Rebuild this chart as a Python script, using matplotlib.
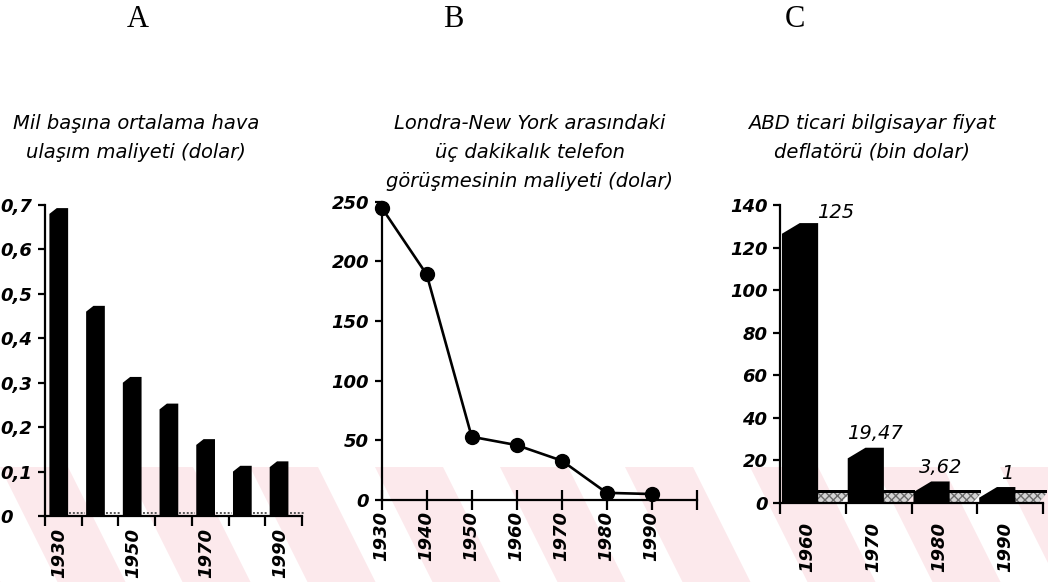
import matplotlib.pyplot as plt
from matplotlib.ticker import FuncFormatter

# ---------------------------------------------------------
# Data
# ---------------------------------------------------------
air_years = [1930, 1940, 1950, 1960, 1970, 1980, 1990]
air_cost = [0.68, 0.46, 0.30, 0.24, 0.16, 0.10, 0.11]

call_years = [1930, 1940, 1950, 1960, 1970, 1980, 1990]
call_cost = [245, 189, 53, 46, 33, 6, 5]

pc_years = [1960, 1970, 1980, 1990]
pc_price = [125, 19.47, 3.62, 1]

panel_letters = ["A", "B", "C"]
subtitle_a = ["Mil başına ortalama hava", "ulaşım maliyeti (dolar)"]
subtitle_b = ["Londra-New York arasındaki", "üç dakikalık telefon",
              "görüşmesinin maliyeti (dolar)"]
subtitle_c = ["ABD ticari bilgisayar fiyat", "deflatörü (bin dolar)"]

W, H = 1048, 582
TICK_FONT = dict(family="DejaVu Sans", style="oblique", weight="bold", size=13)


def fig_rect(left_px, right_px, top_px, bottom_px):
    return [left_px / W, (H - bottom_px) / H,
            (right_px - left_px) / W, (bottom_px - top_px) / H]


def bar3d(ax, x0, x1, dx, top, dv, **kw):
    # front edge, slanted top, back edge -> one filled outline
    xs = [x0, x0, x0 + dx, x1, x1]
    ys = [0, top, top + dv, top + dv, 0]
    ax.fill(xs, ys, **kw)


def comma(v, _pos=None):
    if v == 0:
        return "0"
    return f"{v:g}".replace(".", ",")


def style_axes(ax):
    ax.set_facecolor("none")
    for s in ("top", "right"):
        ax.spines[s].set_visible(False)
    for s in ("left", "bottom"):
        ax.spines[s].set_linewidth(1.6)
    for lab in ax.get_xticklabels(minor=True) + ax.get_xticklabels() + ax.get_yticklabels():
        lab.set(**TICK_FONT)


def draw_chart():
    plt.rcParams['font.family'] = ['DejaVu Sans']
    fig = plt.figure(figsize=(W / 100, H / 100), dpi=100)
    fig.patch.set_facecolor("white")

    # ---------------------------------------------------------
    # Background watermark (pale diagonal bands at the bottom)
    # ---------------------------------------------------------
    bg = fig.add_axes([0, 0, 1, 1])
    bg.set_xlim(0, W)
    bg.set_ylim(H, 0)
    bg.axis("off")
    bg.set_zorder(-5)
    band_top, band_bot = 467, H
    slope = 0.5
    for k in range(-2, 10):
        x = 0 + k * 125
        shift = (band_bot - band_top) * slope
        bg.fill([x, x + 68, x + 68 + shift, x + shift],
                [band_top, band_top, band_bot, band_bot],
                color="#fce9ec", lw=0)

    # ---------------------------------------------------------
    # Panel A: air transport cost per mile (3D-ish bars)
    # ---------------------------------------------------------
    axA = fig.add_axes(fig_rect(45, 302, 205, 516))
    for i, v in enumerate(air_cost):
        bar3d(axA, i + 0.12, i + 0.63, 0.2, v, 0.013, color="black", lw=0)
        axA.plot([i + 0.66, i + 1.08], [0.006, 0.006], ls=(0, (1, 1)),
                 color="#555555", lw=1.4, clip_on=False)
    axA.set_xlim(0, len(air_cost))
    axA.set_ylim(0, 0.7)
    axA.set_xticks(range(len(air_cost) + 1))
    axA.set_xticklabels([])
    axA.set_xticks([i + 0.4 for i in range(0, len(air_years), 2)],
                   [str(y) for y in air_years[::2]], minor=True, rotation=90)
    axA.set_yticks([i / 10 for i in range(8)])
    axA.yaxis.set_major_formatter(FuncFormatter(comma))
    axA.tick_params(axis="x", which="major", direction="out", length=7, width=1.6)
    axA.tick_params(axis="x", which="minor", length=0, pad=9)
    axA.tick_params(axis="y", direction="out", length=5, width=1.6, pad=27)
    style_axes(axA)
    for lab in axA.get_yticklabels():
        lab.set_ha("left")

    # ---------------------------------------------------------
    # Panel B: London - New York three minute call (line)
    # ---------------------------------------------------------
    axB = fig.add_axes(fig_rect(381.7, 696.7, 201.7, 500))
    axB.plot(call_years, call_cost, color="black", lw=1.9, marker="o",
             ms=10, clip_on=False, zorder=5)
    axB.set_xlim(1930, 2000)
    axB.set_ylim(0, 250)
    axB.set_xticks(range(1930, 2001, 10))
    axB.set_xticklabels([str(y) for y in call_years] + [""], rotation=90)
    axB.set_yticks(range(0, 251, 50))
    axB.tick_params(axis="x", direction="inout", length=14, width=1.6, pad=1)
    axB.tick_params(axis="y", direction="out", length=5, width=1.6, pad=4)
    style_axes(axB)

    # ---------------------------------------------------------
    # Panel C: US computer price deflator (3D-ish bars + floor)
    # ---------------------------------------------------------
    axC = fig.add_axes(fig_rect(780, 1043, 205, 503))
    floor, depth = 1.5, 5
    for i, v in enumerate(pc_price):
        # hatched floor strip behind / beside each bar
        axC.fill([i + 0.38, i + 0.58, i + 1.06, i + 0.94], [0.5, 4.7, 4.7, 0.5],
                 facecolor="#d4d4d4", edgecolor="#6a6a6a", hatch="xxxx",
                 lw=0, clip_on=False, zorder=1)
        axC.fill([i + 0.5, i + 1.06, i + 1.06, i + 0.5], [4.7, 4.7, 5.9, 5.9],
                 color="black", lw=0, clip_on=False, zorder=1)
        bar3d(axC, i + 0.03, i + 0.58, 0.27, v + floor, depth,
              color="black", lw=0, zorder=2)
        top = v + floor + depth
        if top + 10 > 140:
            axC.text(i + 0.57, top + 0.5, comma(v), ha="left", va="bottom",
                     fontsize=14, style="oblique")
        else:
            axC.text(i + 0.45, top + 2, comma(v), ha="center", va="bottom",
                     fontsize=14, style="oblique")
    axC.set_xlim(0, len(pc_price))
    axC.set_ylim(0, 140)
    axC.set_xticks(range(len(pc_price) + 1))
    axC.set_xticklabels([])
    axC.set_xticks([i + 0.42 for i in range(len(pc_years))],
                   [str(y) for y in pc_years], minor=True, rotation=90)
    axC.set_yticks(range(0, 141, 20))
    axC.tick_params(axis="x", which="major", direction="out", length=8, width=1.6)
    axC.tick_params(axis="x", which="minor", length=0, pad=14)
    axC.tick_params(axis="y", direction="out", length=5, width=1.6, pad=4)
    style_axes(axC)

    # ---------------------------------------------------------
    # Letters and subtitles
    # ---------------------------------------------------------
    for letter, cx in zip(panel_letters, [138, 453, 795]):
        fig.text(cx / W, 1 - 27 / H, letter, ha="center", va="baseline",
                 family="Liberation Serif", fontsize=22)

    for lines, cx in [(subtitle_a, 136), (subtitle_b, 530), (subtitle_c, 872)]:
        for k, line in enumerate(lines):
            fig.text(cx / W, 1 - (129 + 29 * k) / H, line, ha="center",
                     va="baseline", fontsize=14, style="oblique")

    fig.savefig("out.png", dpi=100)


if __name__ == "__main__":
    draw_chart()
